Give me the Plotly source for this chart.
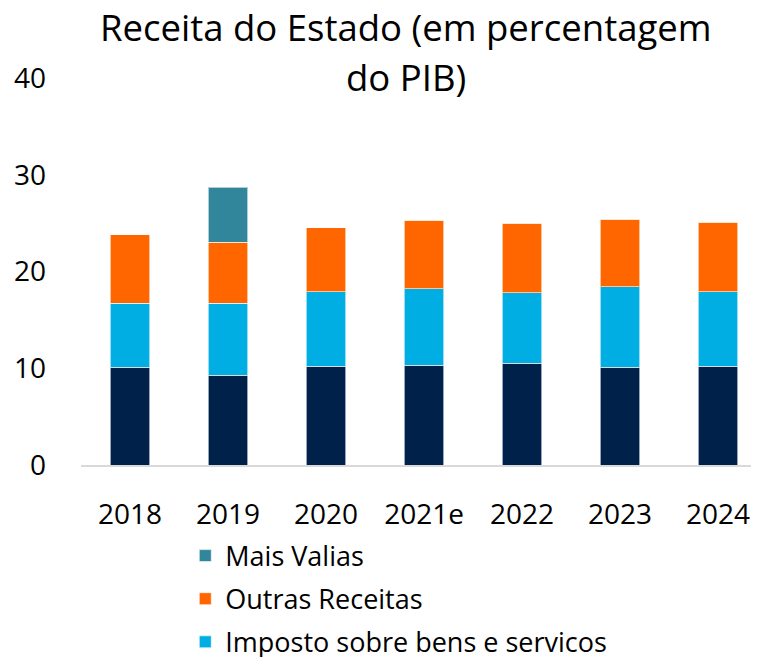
import plotly.graph_objects as go

categories = ["2018", "2019", "2020", "2021e", "2022", "2023", "2024"]
impostos_diretos = [10.1, 9.3, 10.2, 10.3, 10.5, 10.1, 10.2]
imposto_bens_servicos = [6.6, 7.4, 7.7, 7.9, 7.3, 8.3, 7.7]
outras_receitas = [7.1, 6.3, 6.6, 7.1, 7.2, 7.0, 7.2]
mais_valias = [0, 5.7, 0, 0, 0, 0, 0]

y_ticks = [0, 10, 20, 30, 40]
title_lines = ["Receita do Estado (em percentagem", "do PIB)"]

FONT = "Open Sans"
line = dict(color="rgba(255,255,255,0.6)", width=1)

fig = go.Figure()
fig.add_trace(go.Bar(x=categories, y=impostos_diretos, name="Impostos diretos",
                     marker=dict(color="#00224A", line=line), showlegend=False))
fig.add_trace(go.Bar(x=categories, y=imposto_bens_servicos, name="Imposto sobre bens e servicos",
                     marker=dict(color="#00AEE3", line=line), legendgroup="c", legendrank=3))
fig.add_trace(go.Bar(x=categories, y=outras_receitas, name="Outras Receitas",
                     marker=dict(color="#FF6600", line=line), legendgroup="b", legendrank=2))
fig.add_trace(go.Bar(x=categories, y=mais_valias, name="Mais Valias",
                     marker=dict(color="#31869B", line=line), legendgroup="a", legendrank=1))

fig.update_layout(
    width=759, height=657,
    barmode="stack", bargap=0.6,
    plot_bgcolor="white", paper_bgcolor="white",
    font=dict(family=FONT, size=28, color="#000000"),
    margin=dict(l=73, r=0, t=70, b=200, autoexpand=False),
    xaxis=dict(range=[-0.5, 6.5], showline=True, linecolor="#D9D9D9", linewidth=2,
               showgrid=False, ticks="", ticklabelstandoff=23, tickfont=dict(size=28)),
    yaxis=dict(range=[0, 40], tickvals=y_ticks, showgrid=False, zeroline=False,
               showline=False, ticks="", ticklabelstandoff=34, tickfont=dict(size=28)),
    legend=dict(orientation="v", traceorder="grouped", tracegroupgap=5,
                x=0.152, xanchor="left", y=-0.172, yanchor="top",
                font=dict(size=27, family=FONT), bgcolor="rgba(0,0,0,0)"),
)

for txt, yy in zip(title_lines, [1.132, 1.003]):
    fig.add_annotation(text=txt, xref="paper", yref="paper", x=0.474, y=yy,
                       xanchor="center", yanchor="middle", showarrow=False,
                       font=dict(size=36.5, family=FONT, color="#000000"))

fig.write_html("out.html")
